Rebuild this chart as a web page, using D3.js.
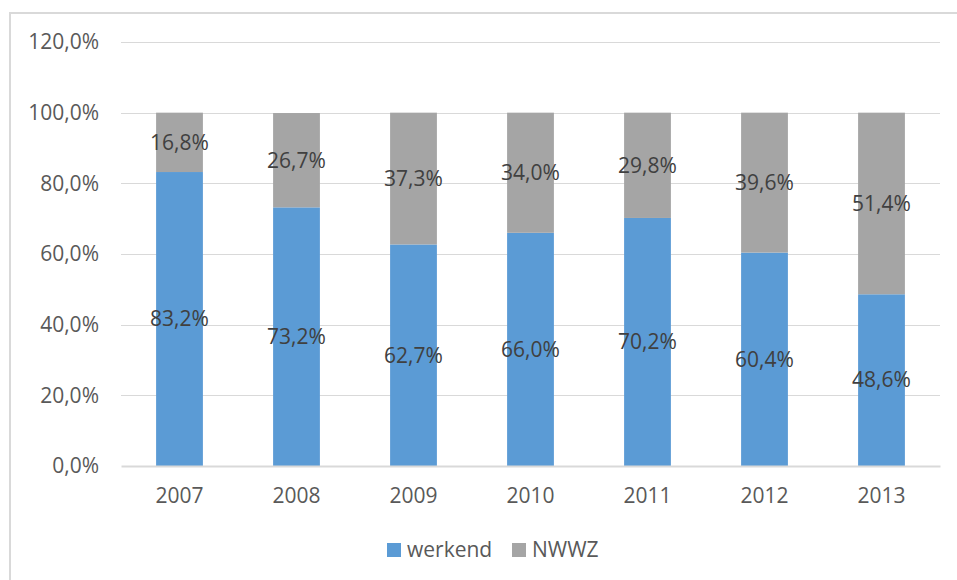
<!DOCTYPE html>
<html>
<head>
<meta charset="utf-8">
<script src="https://cdn.jsdelivr.net/npm/d3@7"></script>
<style>
  body { margin: 0; background: #fff; }
  #chart { width: 957px; height: 580px; }
  text { font-family: "Open Sans", sans-serif; }
</style>
</head>
<body>
<div id="chart"></div>
<script>
// data
const years = ["2007", "2008", "2009", "2010", "2011", "2012", "2013"];
const werkend = [83.2, 73.2, 62.7, 66.0, 70.2, 60.4, 48.6];
const nwwz = [16.8, 26.7, 37.3, 34.0, 29.8, 39.6, 51.4];
const yTicks = [0, 20, 40, 60, 80, 100, 120];
const seriesNames = ["werkend", "NWWZ"];
const seriesColors = ["#5B9BD5", "#A5A5A5"];

const width = 957, height = 580;
const margin = {top: 42, left: 121, right: 17, bottom: 114};

const canvas = d3.select("#chart")
    .append("svg")
    .attr("width", width)
    .attr("height", height);

// outer frame (right and bottom edges fall outside the picture)
canvas.append("rect")
    .attr("x", 10).attr("y", 13)
    .attr("width", 960).attr("height", 580)
    .attr("fill", "none")
    .attr("stroke", "#D9D9D9")
    .attr("stroke-width", 2);

const fmt = v => v.toFixed(1).replace(".", ",") + "%";

const xScale = d3.scaleBand()
    .domain(years)
    .range([margin.left, width - margin.right])
    .paddingInner(0.6)
    .paddingOuter(0.3);

const yScale = d3.scaleLinear()
    .domain([0, 120])
    .range([height - margin.bottom, margin.top]);

// gridlines
canvas.append("g")
    .selectAll("line")
    .data(yTicks.filter(d => d > 0))
    .enter()
    .append("line")
    .attr("x1", margin.left)
    .attr("x2", width - margin.right)
    .attr("y1", d => Math.round(yScale(d)) + 0.5)
    .attr("y2", d => Math.round(yScale(d)) + 0.5)
    .attr("stroke", "#D9D9D9")
    .attr("stroke-width", 1);

// y axis labels
const yAxis = canvas.append("g")
    .attr("transform", `translate(${margin.left - 22},0)`)
    .call(d3.axisLeft(yScale).tickValues(yTicks).tickFormat(fmt).tickSize(0).tickPadding(0));
yAxis.select(".domain").remove();
yAxis.selectAll("text")
    .attr("font-family", "Open Sans, sans-serif")
    .attr("font-size", "21px")
    .attr("fill", "#595959");

// stacked bars
const stack = [werkend.map((v, i) => ({y0: 0, y1: v, v: v, year: years[i]})),
               nwwz.map((v, i) => ({y0: werkend[i], y1: werkend[i] + v, v: v, year: years[i]}))];

stack.forEach(function(series, s) {
    canvas.append("g")
        .selectAll("rect")
        .data(series)
        .enter()
        .append("rect")
        .attr("x", d => xScale(d.year))
        .attr("width", xScale.bandwidth())
        .attr("y", d => yScale(d.y1))
        .attr("height", d => yScale(d.y0) - yScale(d.y1))
        .attr("fill", seriesColors[s]);

    canvas.append("g")
        .selectAll("text")
        .data(series)
        .enter()
        .append("text")
        .attr("x", d => xScale(d.year) + xScale.bandwidth() / 2)
        .attr("y", d => yScale((d.y0 + d.y1) / 2))
        .attr("dy", "0.35em")
        .attr("text-anchor", "middle")
        .attr("font-size", "21px")
        .attr("fill", "#404040")
        .text(d => fmt(d.v));
});

// x axis
const xAxis = canvas.append("g")
    .attr("transform", `translate(0,${height - margin.bottom})`)
    .call(d3.axisBottom(xScale).tickSize(0).tickPadding(22));
xAxis.select(".domain")
    .attr("stroke", "#D9D9D9")
    .attr("stroke-width", 2);
xAxis.selectAll("text")
    .attr("font-family", "Open Sans, sans-serif")
    .attr("font-size", "21px")
    .attr("fill", "#595959");

// legend
const legendX = [387, 512];
const legend = canvas.append("g")
    .selectAll("g")
    .data(seriesNames)
    .enter()
    .append("g")
    .attr("transform", (d, i) => `translate(${legendX[i]},543)`);
legend.append("rect")
    .attr("width", 14).attr("height", 14)
    .attr("fill", (d, i) => seriesColors[i]);
legend.append("text")
    .attr("x", 20).attr("y", 7)
    .attr("dy", "0.35em")
    .attr("font-size", "21px")
    .attr("fill", "#595959")
    .text(d => d);
</script>
</body>
</html>
